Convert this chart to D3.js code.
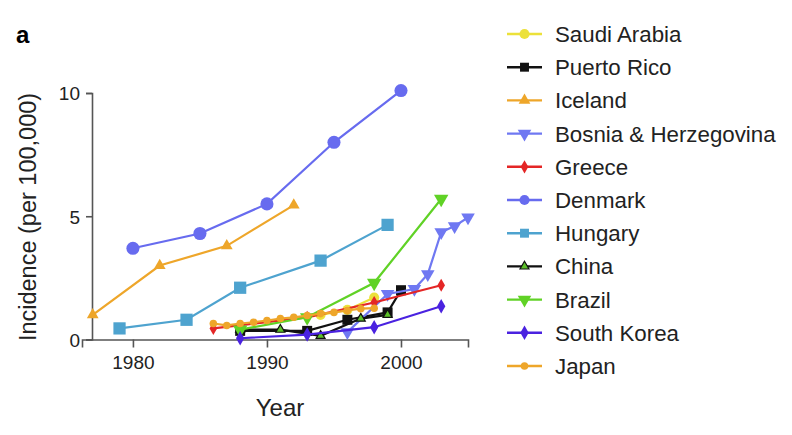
<!DOCTYPE html>
<html><head><meta charset="utf-8">
<script src="https://cdn.jsdelivr.net/npm/d3@7"></script>
<style>body{margin:0;background:#fff;} text{font-family:"Liberation Sans",Arial,Helvetica,sans-serif;}</style>
</head><body>
<svg id="c" width="792" height="435"></svg>
<script>
const countries = ["Saudi Arabia","Puerto Rico","Iceland","Bosnia & Herzegovina","Greece","Denmark","Hungary","China","Brazil","South Korea","Japan"];
const colors = ["#ece13a","#111111","#eea62a","#6f78f2","#e42626","#676bef","#4ea3cf","#111111","#60d226","#4a22e0","#eea62a"];
const markerFill = ["#ece13a","#111111","#eea62a","#6f78f2","#e42626","#676bef","#4ea3cf","#5cc02a","#60d226","#4a22e0","#eea62a"];
const markerShape = ["circle","square","triangle","triangleDown","diamond","circle","square","triangle","triangleDown","diamond","circle"];
const markerArea = [80,100,60,80,50,135,150,35,90,60,45];

const saudiYears = [1994,1996,1998];
const saudiValues = [1.0,1.2,1.7];
const puertoYears = [1988,1993,1996,1999,2000];
const puertoValues = [0.35,0.35,0.8,1.1,2.0];
const icelandYears = [1977,1982,1987,1992];
const icelandValues = [1.0,3.0,3.8,5.45];
const bosniaYears = [1996,1999,2001,2002,2003,2004,2005];
const bosniaValues = [0.3,1.85,2.05,2.65,4.35,4.6,4.95];
const greeceYears = [1986,1993,1998,2003];
const greeceValues = [0.45,0.9,1.5,2.2];
const denmarkYears = [1980,1985,1990,1995,2000];
const denmarkValues = [3.7,4.3,5.5,8.0,10.1];
const hungaryYears = [1979,1984,1988,1994,1999];
const hungaryValues = [0.45,0.8,2.1,3.2,4.65];
const chinaYears = [1988,1991,1994,1997,1999];
const chinaValues = [0.4,0.4,0.15,0.85,1.0];
const brazilYears = [1988,1993,1998,2003];
const brazilValues = [0.4,0.9,2.3,5.7];
const koreaYears = [1988,1993,1998,2003];
const koreaValues = [0.05,0.2,0.5,1.35];
const japanYears = [1986,1987,1988,1989,1990,1991,1992,1993,1994,1995,1996,1997,1998];
const japanValues = [0.65,0.57,0.65,0.7,0.77,0.85,0.9,0.97,1.05,1.1,1.18,1.25,1.27];

const yTicks = [0,5,10];
const xTicks = [1980,1990,2000];

const allYears = [saudiYears,puertoYears,icelandYears,bosniaYears,greeceYears,denmarkYears,hungaryYears,chinaYears,brazilYears,koreaYears,japanYears];
const allValues = [saudiValues,puertoValues,icelandValues,bosniaValues,greeceValues,denmarkValues,hungaryValues,chinaValues,brazilValues,koreaValues,japanValues];

const svg = d3.select("#c");
const x = d3.scaleLinear().domain([1976.2,2005]).range([82,468]);
const y = d3.scaleLinear().domain([0,10]).range([339.5,93]);

svg.append("text").attr("x",16).attr("y",43).attr("font-size",24).attr("font-weight","bold").text("a");

const axisColor = "#555";
const gx = svg.append("g").attr("transform","translate(0,339.5)")
  .call(d3.axisBottom(x).tickValues(xTicks).tickFormat(d3.format("d")).tickSizeOuter(0).tickSize(8).tickPadding(8));
const gy = svg.append("g").attr("transform","translate(92,0)")
  .call(d3.axisLeft(y).tickValues(yTicks).tickSizeOuter(0).tickSize(6).tickPadding(6));
[gx,gy].forEach(g=>{
  g.selectAll("path,line").attr("stroke",axisColor).attr("stroke-width",1.6);
  g.selectAll("text").attr("font-size",19).attr("fill","#222").attr("font-family","Liberation Sans, Arial, sans-serif");
});
gy.selectAll("text").attr("dy","0.36em");

svg.append("text").attr("x",280).attr("y",416).attr("text-anchor","middle").attr("font-size",24).attr("fill","#222").text("Year");
svg.append("text").attr("transform","translate(36,217) rotate(-90)").attr("text-anchor","middle").attr("font-size",23.5).attr("fill","#222").text("Incidence (per 100,000)");

function symbolFor(shape, area){
  if(shape==="circle") return d3.symbol().type(d3.symbolCircle).size(area)();
  if(shape==="square") return d3.symbol().type(d3.symbolSquare).size(area)();
  if(shape==="diamond") return d3.symbol().type(d3.symbolDiamond).size(area)();
  return d3.symbol().type(d3.symbolTriangle).size(area)();
}
function rot(shape){ return shape==="triangleDown" ? " rotate(180)" : ""; }

const line = d3.line().x(d=>x(d[0])).y(d=>y(d[1]));
const plot = svg.append("g");
countries.forEach((c,i)=>{
  const pts = allYears[i].map((yr,j)=>[yr, allValues[i][j]]);
  const g = plot.append("g");
  g.append("path").attr("d",line(pts)).attr("fill","none").attr("stroke",colors[i]).attr("stroke-width",2.2);
  g.selectAll("path.m").data(pts).enter().append("path").attr("class","m")
    .attr("d",symbolFor(markerShape[i],markerArea[i]))
    .attr("transform",d=>`translate(${x(d[0])},${y(d[1])})${rot(markerShape[i])}`)
    .attr("fill",markerFill[i]).attr("stroke", i===7 ? "#111" : "none").attr("stroke-width",1.2);
});

const leg = svg.append("g");
countries.forEach((c,i)=>{
  const cy = 34 + i*33.2;
  leg.append("line").attr("x1",507).attr("x2",542).attr("y1",cy).attr("y2",cy).attr("stroke",colors[i]).attr("stroke-width",2.4);
  leg.append("path").attr("d",symbolFor(markerShape[i], Math.min(markerArea[i],80)))
    .attr("transform",`translate(524.5,${cy})${rot(markerShape[i])}`)
    .attr("fill",markerFill[i]).attr("stroke", i===7 ? "#111" : "none").attr("stroke-width",1.2);
  leg.append("text").attr("x",555).attr("y",cy).attr("dy","0.36em").attr("font-size",22.3).attr("fill","#222").text(c);
});
</script>
</body></html>
